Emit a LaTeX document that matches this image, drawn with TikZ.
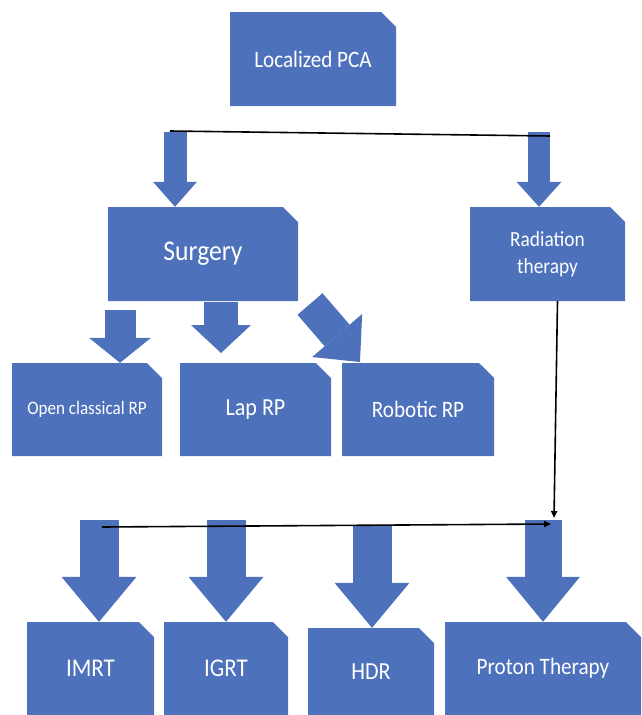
\documentclass[tikz,border=0pt]{standalone}
\usepackage{fontspec}
\setmainfont[FakeStretch=0.9]{Carlito}
\usetikzlibrary{shapes.misc, arrows.meta, positioning, calc}
\definecolor{boxblue}{RGB}{78,113,187}

\begin{document}
\begin{tikzpicture}[x=1pt, y=-1pt,
    every node/.style={text=white, align=center},
    treebox/.style={chamfered rectangle, chamfered rectangle corners=north east,
        chamfered rectangle xsep=6.5pt, chamfered rectangle ysep=8.5pt,
        fill=boxblue, inner sep=0pt},
    fatarrow/.style n args={3}{draw=boxblue, line width=#1,
        -{Triangle[length=#2, width=#3, line width=0pt]}},
    thinline/.style={draw=black, line width=1.6pt},
    thinarrow/.style={thinline, -{Triangle[length=7pt, width=6pt]}}
]
    \useasboundingbox (0,0) rectangle (642,715);

    % Boxes (Row 1 and 2)
    \node (pca) [treebox, minimum width=166pt, minimum height=94pt,
        font=\fontsize{23.5}{28}\selectfont] at (313, 59) {Localized PCA};
    \node (surgery) [treebox, minimum width=190pt, minimum height=94pt,
        font=\fontsize{28.5}{34}\selectfont] at (203, 254) {Surgery};
    \node (radiation) [treebox, minimum width=155pt, minimum height=94pt,
        font=\fontsize{21.5}{27}\selectfont] at (547.5, 254) {Radiation\\therapy};

    % Boxes (Row 3)
    \node (open) [treebox, minimum width=150pt, minimum height=93pt,
        font=\fontsize{19}{23}\selectfont] at (87, 409.5) {Open classical RP};
    \node (lap) [treebox, minimum width=151pt, minimum height=93pt,
        font=\fontsize{24.5}{29}\selectfont] at (255.5, 409.5) {Lap RP};
    \node (robotic) [treebox, minimum width=152pt, minimum height=93pt,
        font=\fontsize{23.5}{28}\selectfont] at (418, 409.5) {Robotic RP};

    % Boxes (Row 4)
    \node (imrt) [treebox, minimum width=127pt, minimum height=93pt,
        font=\fontsize{25.5}{30}\selectfont] at (90.5, 668.5) {IMRT};
    \node (igrt) [treebox, minimum width=124pt, minimum height=93pt,
        font=\fontsize{25.5}{30}\selectfont] at (226, 668.5) {IGRT};
    \node (hdr) [treebox, minimum width=126pt, minimum height=87pt,
        font=\fontsize{24.5}{29}\selectfont] at (371, 671.5) {HDR};
    \node (proton) [treebox, minimum width=196pt, minimum height=93pt,
        font=\fontsize{23.5}{28}\selectfont] at (543, 668.5) {Proton Therapy};

    % Free ends
    \coordinate (splitL) at (170, 131);
    \coordinate (splitR) at (550, 136);
    \coordinate (toSurg) at (175, 132);
    \coordinate (toRad) at (539, 132);
    \coordinate (toOpen) at (120, 310);
    \coordinate (toLap) at (221, 302);
    \coordinate (robTail) at (310, 304);
    \coordinate (robTip) at (360, 362);
    \coordinate (toImrt) at (99, 520);
    \coordinate (toIgrt) at (226, 520);
    \coordinate (toHdr) at (372, 525);
    \coordinate (toProton) at (543, 520);
    \coordinate (radTurn) at (554, 518);
    \coordinate (rowL) at (102, 527);
    \coordinate (rowR) at (551, 524);

    % Block arrows
    \draw [fatarrow={23pt}{25pt}{44pt}] (toSurg) -- (toSurg |- surgery.north);
    \draw [fatarrow={22pt}{25pt}{45pt}] (toRad) -- (toRad |- radiation.north);
    \draw [fatarrow={31pt}{25pt}{62pt}] (toOpen) -- (toOpen |- open.north);
    \draw [fatarrow={34pt}{28pt}{60pt}] (toLap) -- ++(0, 51);
    \draw [fatarrow={33pt}{35pt}{66pt}] (robTail) -- (robTip);
    \draw [fatarrow={39pt}{45pt}{75pt}] (toImrt) -- (toImrt |- imrt.north);
    \draw [fatarrow={39pt}{45pt}{75pt}] (toIgrt) -- (toIgrt |- igrt.north);
    \draw [fatarrow={39pt}{45pt}{75pt}] (toHdr) -- (toHdr |- hdr.north);
    \draw [fatarrow={37pt}{45pt}{74pt}] (toProton) -- (toProton |- proton.north);

    % Connections
    \draw [thinline] (splitL) -- (splitR);
    \draw [thinarrow] ($(radiation.south)+(10,0)$) -- (radTurn);
    \draw [thinarrow] (rowL) -- (rowR);

\end{tikzpicture}
\end{document}
